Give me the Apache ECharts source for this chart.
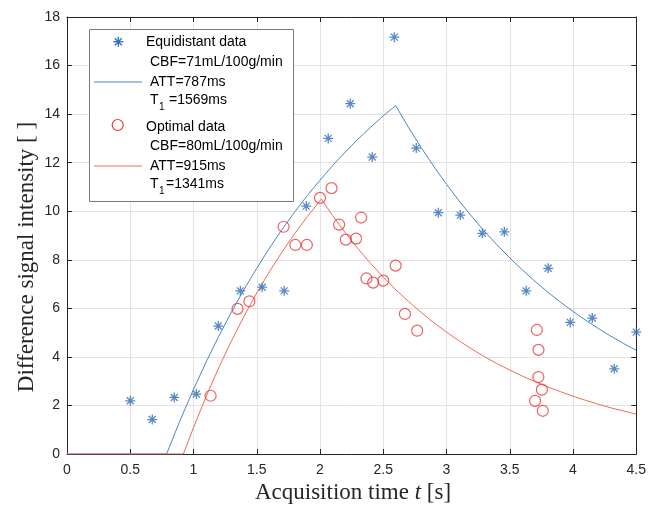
<!DOCTYPE html>
<html>
<head>
<meta charset="utf-8">
<script src="https://cdn.jsdelivr.net/npm/echarts@6/dist/echarts.min.js"></script>
<style>html,body{margin:0;padding:0;background:#fff}#c{width:649px;height:510px}</style>
</head>
<body>
<div id="c"></div>
<script>
// Equidistant data (blue asterisks)
const eqTime = [0.500,0.674,0.848,1.022,1.196,1.370,1.543,1.717,1.891,2.065,2.239,2.413,2.587,2.761,2.935,3.109,3.283,3.457,3.630,3.804,3.978,4.152,4.326,4.500];
const eqSignal = [2.19,1.42,2.33,2.47,5.27,6.72,6.87,6.72,10.21,13.00,14.43,12.23,17.17,12.60,9.94,9.84,9.09,9.15,6.72,7.65,5.42,5.60,3.51,5.02];
// Optimal data (red circles)
const optTime = [1.135,1.348,1.442,1.712,1.805,1.896,2.000,2.091,2.151,2.204,2.285,2.325,2.367,2.420,2.500,2.598,2.671,2.768,3.714,3.727,3.726,3.754,3.700,3.761];
const optSignal = [2.40,5.98,6.29,9.36,8.61,8.61,10.55,10.95,9.45,8.83,8.87,9.74,7.23,7.06,7.14,7.76,5.77,5.08,5.11,4.29,3.17,2.65,2.19,1.78];
// Fitted curve, equidistant (blue line)
const fitEqTime = [0,0.787,0.9,1.0,1.1,1.2,1.3,1.4,1.5,1.6,1.7,1.8,1.9,2.0,2.1,2.2,2.3,2.4,2.5,2.598,2.7,2.8,2.9,3.0,3.1,3.2,3.3,3.4,3.5,3.6,3.7,3.8,3.9,4.0,4.1,4.2,4.3,4.4,4.5];
const fitEqSignal = [0,0,1.46,2.66,3.79,4.85,5.85,6.78,7.65,8.48,9.25,9.97,10.65,11.28,11.88,12.44,12.97,13.46,13.93,14.35,13.45,12.62,11.84,11.11,10.42,9.78,9.17,8.61,8.08,7.58,7.11,6.67,6.26,5.87,5.51,5.17,4.85,4.55,4.27];
// Fitted curve, optimal (red line)
const fitOptTime = [0,0.92,1.0,1.1,1.2,1.3,1.4,1.5,1.6,1.7,1.8,1.9,2.01,2.1,2.2,2.3,2.4,2.5,2.6,2.7,2.8,2.9,3.0,3.1,3.2,3.3,3.4,3.5,3.6,3.7,3.8,3.9,4.0,4.1,4.2,4.3,4.4,4.5];
const fitOptSignal = [0,0,1.09,2.37,3.56,4.66,5.68,6.63,7.51,8.32,9.08,9.78,10.50,9.82,9.11,8.46,7.85,7.29,6.76,6.28,5.83,5.41,5.02,4.66,4.32,4.01,3.72,3.46,3.21,2.98,2.76,2.57,2.38,2.21,2.05,1.90,1.77,1.64];

const legendLines = {
  eqName: 'Equidistant data', eqCBF: 'CBF=71mL/100g/min', eqATT: 'ATT=787ms', eqT1: '=1569ms',
  optName: 'Optimal data', optCBF: 'CBF=80mL/100g/min', optATT: 'ATT=915ms', optT1: '=1341ms'
};

const pair = (xs, ys) => xs.map((x, i) => [x, ys[i]]);
const BLUE_M = '#2f6cb6', RED_M = '#e8393c', BLUE_L = '#4a86c8', RED_L = '#f26b52';
const AX = '#262626';
const star = 'path://M5,0L5,10M0,5L10,5M1.5,1.5L8.5,8.5M1.5,8.5L8.5,1.5';
const sans = '"Liberation Sans", Arial, Helvetica, sans-serif';
const serif = '"Liberation Serif", "Times New Roman", serif';

const chart = echarts.init(document.getElementById('c'), null, {renderer: 'canvas'});

function txt(x, y, s, size, color, extra) {
  return Object.assign({type: 'text', x: x, y: y, z: 100,
    style: {text: s, font: size + 'px ' + sans, fill: color || '#000', verticalAlign: 'middle', align: 'left'}}, extra || {});
}
function ln(x1, y1, x2, y2, color, w) {
  return {type: 'line', z: 100, shape: {x1, y1, x2, y2}, style: {stroke: color, lineWidth: w || 1}};
}
const sx = 118.3, sy = 41.7, r = 5;
const graphics = [
  {type: 'rect', z: 99, shape: {x: 89.5, y: 29.5, width: 204, height: 172}, style: {fill: '#fff', stroke: '#7a7a7a', lineWidth: 1}},
  ln(sx, sy - r, sx, sy + r, BLUE_M, 1.3), ln(sx - r, sy, sx + r, sy, BLUE_M, 1.3),
  ln(sx - 3.5, sy - 3.5, sx + 3.5, sy + 3.5, BLUE_M, 1.3), ln(sx - 3.5, sy + 3.5, sx + 3.5, sy - 3.5, BLUE_M, 1.3),
  txt(146, 42, legendLines.eqName, 14),
  txt(150, 62, legendLines.eqCBF, 14),
  ln(94, 82, 142, 82, BLUE_L, 1),
  txt(150, 82, legendLines.eqATT, 14),
  txt(150, 100, 'T', 14), txt(159, 107, '1', 10), txt(169, 100, legendLines.eqT1, 14),
  {type: 'circle', z: 100, shape: {cx: 117.7, cy: 125, r: 5.5}, style: {fill: 'none', stroke: RED_M, lineWidth: 1.2}},
  txt(146, 127, legendLines.optName, 14),
  txt(150, 146, legendLines.optCBF, 14),
  ln(94, 166, 142, 166, RED_L, 1),
  txt(150, 166, legendLines.optATT, 14),
  txt(150, 184, 'T', 14), txt(159, 191, '1', 10), txt(166, 184, legendLines.optT1, 14),
  {type: 'text', x: 353, y: 493, z: 100, style: {
    text: '{a|Acquisition time }{i|t}{a| [s]}', align: 'center', verticalAlign: 'middle',
    rich: {a: {font: '23px ' + serif, fill: AX}, i: {font: 'italic 23px ' + serif, fill: AX}}}},
  {type: 'text', x: 27, y: 257, rotation: Math.PI / 2, z: 100, style: {
    text: 'Difference signal intensity [ ]', font: '23px ' + serif, fill: AX, align: 'center', verticalAlign: 'middle'}}
];

const xCommon = {type: 'value', min: 0, max: 4.5, interval: 0.5,
  axisLine: {show: true, onZero: false, lineStyle: {color: AX, width: 1}},
  axisTick: {show: true, inside: true, length: 5, lineStyle: {color: AX}}};
const yCommon = {type: 'value', min: 0, max: 18, interval: 2,
  axisLine: {show: true, onZero: false, lineStyle: {color: AX, width: 1}},
  axisTick: {show: true, inside: true, length: 5, lineStyle: {color: AX}}};

chart.setOption({
  animation: false,
  backgroundColor: '#fff',
  grid: {left: 67, top: 17, width: 571, height: 437, containLabel: false},
  xAxis: [
    Object.assign({}, xCommon, {position: 'bottom',
      axisLabel: {show: true, margin: 9, color: AX, fontSize: 14, fontFamily: sans},
      splitLine: {show: true, lineStyle: {color: '#e3e3e3', width: 1}}}),
    Object.assign({}, xCommon, {position: 'top', axisLabel: {show: false}, splitLine: {show: false}})
  ],
  yAxis: [
    Object.assign({}, yCommon, {position: 'left',
      axisLabel: {show: true, margin: 7, color: AX, fontSize: 14, fontFamily: sans},
      splitLine: {show: true, lineStyle: {color: '#e3e3e3', width: 1}}}),
    Object.assign({}, yCommon, {position: 'right', axisLabel: {show: false}, splitLine: {show: false}})
  ],
  series: [
    {type: 'line', name: 'fitEq', data: pair(fitEqTime, fitEqSignal), showSymbol: false, symbol: 'none',
      lineStyle: {color: BLUE_L, width: 1}, z: 3, silent: true},
    {type: 'line', name: 'fitOpt', data: pair(fitOptTime, fitOptSignal), showSymbol: false, symbol: 'none',
      lineStyle: {color: RED_L, width: 1}, z: 3, silent: true},
    {type: 'scatter', name: 'Equidistant data', data: pair(eqTime, eqSignal), symbol: star, symbolSize: 10,
      clip: false, itemStyle: {color: 'rgba(0,0,0,0)', borderColor: BLUE_M, borderWidth: 1.3}, z: 5},
    {type: 'scatter', name: 'Optimal data', data: pair(optTime, optSignal), symbol: 'circle', symbolSize: 11,
      clip: false, itemStyle: {color: 'rgba(0,0,0,0)', borderColor: RED_M, borderWidth: 1.2}, z: 5}
  ],
  graphic: graphics
});
</script>
</body>
</html>
